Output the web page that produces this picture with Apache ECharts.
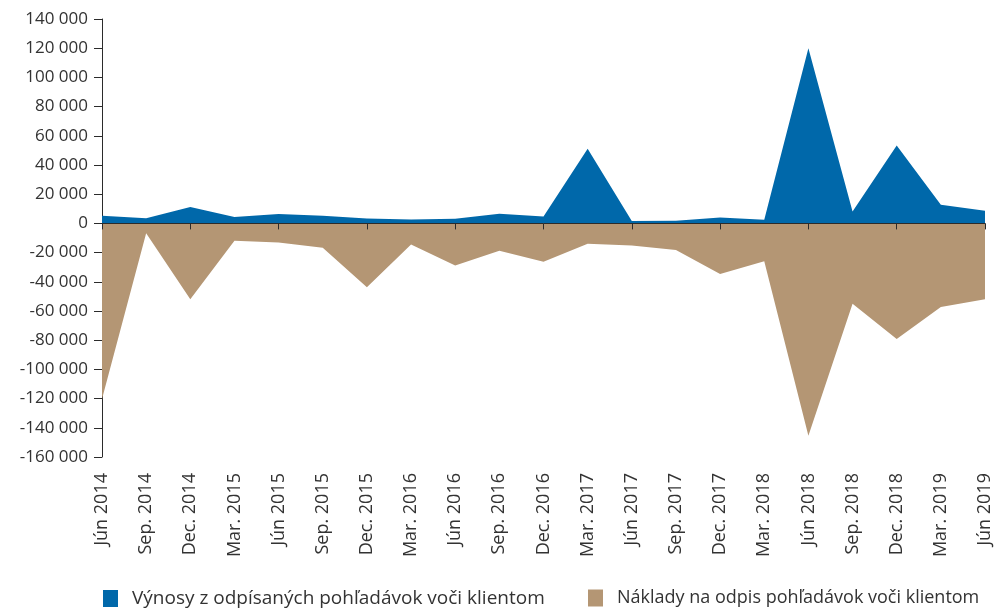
<!DOCTYPE html>
<html>
<head>
<meta charset="utf-8">
<script src="https://cdn.jsdelivr.net/npm/echarts@6/dist/echarts.min.js"></script>
<style>
  html, body { margin: 0; padding: 0; background: #fff; }
  #chart { width: 997px; height: 610px; }
</style>
</head>
<body>
<div id="chart"></div>
<script>
// štvrťroky
const quarters = [
  'Jún 2014', 'Sep. 2014', 'Dec. 2014', 'Mar. 2015', 'Jún 2015', 'Sep. 2015',
  'Dec. 2015', 'Mar. 2016', 'Jún 2016', 'Sep. 2016', 'Dec. 2016', 'Mar. 2017',
  'Jún 2017', 'Sep. 2017', 'Dec. 2017', 'Mar. 2018', 'Jún 2018', 'Sep. 2018',
  'Dec. 2018', 'Mar. 2019', 'Jún 2019'
];

// výnosy (kladné)
const vynosy = [
  5200, 3600, 11200, 4300, 6400, 5200, 3400, 2700, 3200, 6600, 4800, 51100,
  1600, 1800, 4100, 2500, 120000, 8200, 53400, 12700, 8600
];

// náklady (záporné)
const naklady = [
  -120300, -6800, -52000, -11900, -13000, -16700, -43800, -14400, -28800, -18800, -26300, -14000,
  -15100, -18300, -34700, -26000, -145500, -55000, -79200, -57300, -52000
];

const seriesNames = [
  'Výnosy z odpísaných pohľadávok voči klientom',
  'Náklady na odpis pohľadávok voči klientom'
];

const chart = echarts.init(document.getElementById('chart'));
const font = '"Open Sans", sans-serif';
const axisColor = '#2b2b2b';

// jedna legenda na položku, aby sa nezalomili
function legendAt(left, name, size) {
  return {
    top: 584,
    left: left,
    itemWidth: 15,
    itemHeight: 17,
    icon: 'rect',
    textStyle: { fontFamily: font, fontSize: size, color: '#333', padding: [0, 0, 0, 9] },
    data: [name]
  };
}

chart.setOption({
  animation: false,
  color: ['#0068aa', '#b49674'],
  grid: { left: 102, right: 12, top: 19, bottom: 153, containLabel: false },
  legend: [legendAt(98, seriesNames[0], 19), legendAt(583, seriesNames[1], 18)],
  xAxis: [
    {
      type: 'category',
      data: quarters,
      boundaryGap: false,
      z: 10,
      axisLine: { onZero: true, lineStyle: { color: axisColor, width: 1 } },
      axisTick: { show: true, length: 6, alignWithLabel: true, lineStyle: { color: axisColor } },
      axisLabel: { show: false },
      splitLine: { show: false }
    },
    {
      type: 'category',
      data: quarters,
      boundaryGap: false,
      position: 'bottom',
      axisLine: { show: false },
      axisTick: { show: false },
      axisLabel: {
        rotate: 90,
        margin: 16,
        interval: 0,
        fontFamily: font,
        fontSize: 18,
        color: '#333'
      },
      splitLine: { show: false }
    }
  ],
  yAxis: {
    type: 'value',
    min: -160000,
    max: 140000,
    interval: 20000,
    axisLine: { show: true, lineStyle: { color: axisColor } },
    axisTick: { show: true, length: 8, lineStyle: { color: axisColor } },
    splitLine: { show: false },
    axisLabel: {
      margin: 14,
      fontFamily: font,
      fontSize: 17,
      color: '#333',
      formatter: v => String(v).replace(/\B(?=(\d{3})+(?!\d))/g, ' ')
    }
  },
  series: [
    {
      name: seriesNames[0],
      type: 'line',
      xAxisIndex: 0,
      data: vynosy,
      symbol: 'none',
      lineStyle: { width: 0 },
      areaStyle: { color: '#0068aa', opacity: 1 }
    },
    {
      name: seriesNames[1],
      type: 'line',
      xAxisIndex: 0,
      data: naklady,
      symbol: 'none',
      lineStyle: { width: 0 },
      areaStyle: { color: '#b49674', opacity: 1 }
    }
  ]
});
</script>
</body>
</html>
